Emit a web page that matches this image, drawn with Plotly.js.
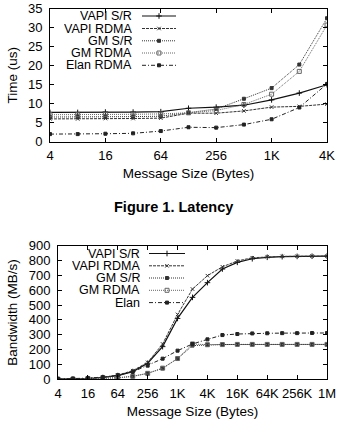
<!DOCTYPE html>
<html>
<head>
<meta charset="utf-8">
<script src="https://cdn.plot.ly/plotly-3.0.1.min.js"></script>
<style>
  html, body { margin: 0; padding: 0; background: #fff; }
  #fig { width: 338px; height: 424px; }
</style>
</head>
<body>
<div id="fig"></div>
<script>
// Message sizes in bytes
const latSizes = [4, 8, 16, 32, 64, 128, 256, 512, 1024, 2048, 4096];
const bwSizes = [4, 8, 16, 32, 64, 128, 256, 512, 1024, 2048, 4096, 8192, 16384,
                 32768, 65536, 131072, 262144, 524288, 1048576];

// Latency (us)
const latVapiSR   = [7.7, 7.7, 7.8, 7.8, 7.9, 8.8, 9.1, 9.6, 11.0, 12.8, 15.0];
const latVapiRDMA = [6.0, 6.0, 6.1, 6.1, 6.2, 7.5, 7.5, 8.1, 9.1, 9.3, 9.9];
const latGmSR     = [6.5, 6.5, 6.5, 6.6, 6.7, 7.6, 8.6, 11.3, 14.1, 20.3, 32.5];
const latGmRDMA   = [7.1, 7.1, 7.2, 7.2, 7.3, 7.6, 8.2, 9.8, 12.5, 18.5, 30.7];
const latElan     = [2.0, 2.0, 2.1, 2.2, 2.8, 3.8, 3.7, 4.5, 5.9, 9.0, 15.2];

// Bandwidth (MB/s)
const bwVapiSR   = [1, 2, 5, 12, 25, 52, 108, 220, 410, 552, 651, 743, 788, 812, 822, 826, 828, 829, 830];
const bwVapiRDMA = [1, 2, 5, 13, 28, 58, 114, 238, 437, 608, 698, 758, 797, 819, 826, 828, 829, 830, 830];
const bwGmSR     = [1, 2, 3, 5, 10, 20, 40, 74, 139, 227, 232, 234, 235, 235, 235, 235, 235, 235, 235];
const bwGmRDMA   = [1, 2, 3, 5, 10, 20, 40, 75, 140, 238, 233, 234, 235, 235, 235, 235, 235, 235, 235];
const bwElan     = [2, 4, 8, 15, 28, 50, 92, 139, 193, 238, 269, 298, 305, 309, 310, 311, 311, 312, 312];

const latTickVals = [4, 16, 64, 256, 1024, 4096];
const latTickText = ['4', '16', '64', '256', '1K', '4K'];
const bwTickVals = [4, 16, 64, 256, 1024, 4096, 16384, 65536, 262144, 1048576];
const bwTickText = ['4', '16', '64', '256', '1K', '4K', '16K', '64K', '256K', '1M'];

const latNames = ['VAPI S/R', 'VAPI RDMA', 'GM S/R', 'GM RDMA', 'Elan RDMA'];
const bwNames  = ['VAPI S/R', 'VAPI RDMA', 'GM S/R', 'GM RDMA', 'Elan'];

const W = 338, H = 424;
const FONT = 'Liberation Sans, Arial, Helvetica, sans-serif';

// gnuplot-like line styles, one per series
const styles = [
  { dash: 'solid',            width: 1.2, color: '#111', symbol: 'cross-thin-open', msize: 4 },
  { dash: '3px,1px',          width: 1.0, color: '#333', symbol: 'x-thin-open',     msize: 3.5 },
  { dash: '1px,1px',          width: 1.0, color: '#333', symbol: 'square',          msize: 3 },
  { dash: '1px,1px',          width: 1.0, color: '#666', symbol: 'square-open',     msize: 4 },
  { dash: '4px,2px,1px,2px',  width: 1.0, color: '#222', symbol: 'square',          msize: 3 }
];

function series(x, y, st, xa, ya) {
  return {
    type: 'scatter', mode: 'lines+markers', x: x, y: y,
    xaxis: xa, yaxis: ya, showlegend: false, hoverinfo: 'skip',
    line: { color: st.color, width: st.width, dash: st.dash },
    marker: { symbol: st.symbol, size: st.msize, color: st.color,
              line: { color: st.color, width: 1 } }
  };
}

const traces = [];
const latData = [latVapiSR, latVapiRDMA, latGmSR, latGmRDMA, latElan];
const bwData  = [bwVapiSR, bwVapiRDMA, bwGmSR, bwGmRDMA, bwElan];
latData.forEach((y, i) => traces.push(series(latSizes, y, styles[i], 'x', 'y')));
bwData.forEach((y, i) => traces.push(series(bwSizes, y, styles[i], 'x2', 'y2')));

// Legend keys drawn on a pixel-coordinate overlay (x3/y3)
const annotations = [];
function legendBlock(names, textRight, x0, x1, ys) {
  names.forEach((n, i) => {
    const st = styles[i];
    const xm = (x0 + x1) / 2;
    traces.push({
      type: 'scatter', mode: 'lines', x: [x0, x1], y: [ys[i], ys[i]],
      xaxis: 'x3', yaxis: 'y3', showlegend: false, hoverinfo: 'skip',
      line: { color: st.color, width: st.width, dash: st.dash }
    });
    traces.push({
      type: 'scatter', mode: 'markers', x: [xm], y: [ys[i]],
      xaxis: 'x3', yaxis: 'y3', showlegend: false, hoverinfo: 'skip',
      marker: { symbol: st.symbol, size: st.msize, color: st.color,
                line: { color: st.color, width: 1 } }
    });
    annotations.push({
      xref: 'x3', yref: 'y3', x: textRight, y: ys[i], text: n,
      xanchor: 'right', yanchor: 'middle', showarrow: false,
      height: 12, borderpad: 0,
      font: { family: FONT, size: 12.5, color: '#000' }
    });
  });
}
legendBlock(latNames, 133, 142, 176, [16, 28.5, 40.8, 53, 65.3]);
legendBlock(bwNames, 141, 149, 185, [253.5, 265.8, 278, 290.3, 302.6]);

// Caption between the two charts
annotations.push({
  xref: 'x3', yref: 'y3', x: 173, y: 207, text: '<b>Figure 1. Latency</b>',
  xanchor: 'center', yanchor: 'middle', showarrow: false,
  font: { family: FONT, size: 14.5, color: '#000' }
});

const axisCommon = {
  showgrid: false, zeroline: false, showline: true, linecolor: '#000', linewidth: 1,
  mirror: 'ticks', ticks: 'inside', ticklen: 4, tickcolor: '#000', tickwidth: 1,
  tickfont: { family: FONT, size: 13, color: '#000' }
};

const px2x = v => v / W;
const px2y = v => 1 - v / H;

const layout = {
  width: W, height: H,
  margin: { l: 0, r: 0, t: 0, b: 0 },
  paper_bgcolor: '#fff', plot_bgcolor: 'rgba(0,0,0,0)',
  showlegend: false,
  font: { family: FONT, size: 13, color: '#000' },
  xaxis: Object.assign({}, axisCommon, {
    type: 'log', domain: [px2x(50), px2x(327)], anchor: 'y',
    range: [Math.log10(4), Math.log10(4096)],
    tickvals: latTickVals, ticktext: latTickText, ticklabelstandoff: 2,
    title: { text: 'Message Size (Bytes)', font: { family: FONT, size: 13.5 }, standoff: 6 }
  }),
  yaxis: Object.assign({}, axisCommon, {
    domain: [px2y(141.7), px2y(8.7)], anchor: 'x',
    range: [0, 35], dtick: 5, ticklabelstandoff: 4,
    title: { text: 'Time (us)', font: { family: FONT, size: 13.5 }, standoff: 7 }
  }),
  xaxis2: Object.assign({}, axisCommon, {
    type: 'log', domain: [px2x(58), px2x(327)], anchor: 'y2',
    range: [Math.log10(4), Math.log10(1048576)],
    tickvals: bwTickVals, ticktext: bwTickText, ticklabelstandoff: 2,
    title: { text: 'Message Size (Bytes)', font: { family: FONT, size: 13.5 }, standoff: 6 }
  }),
  yaxis2: Object.assign({}, axisCommon, {
    domain: [px2y(379.3), px2y(245.7)], anchor: 'x2',
    range: [0, 900], dtick: 100, ticklabelstandoff: 4,
    title: { text: 'Bandwidth (MB/s)', font: { family: FONT, size: 13.5 }, standoff: 7 }
  }),
  xaxis3: { domain: [0, 1], range: [0, W], visible: false, fixedrange: true, anchor: 'y3' },
  yaxis3: { domain: [0, 1], range: [H, 0], visible: false, fixedrange: true, anchor: 'x3' },
  annotations: annotations
};

Plotly.newPlot('fig', traces, layout, { staticPlot: true, displayModeBar: false });
</script>
</body>
</html>
